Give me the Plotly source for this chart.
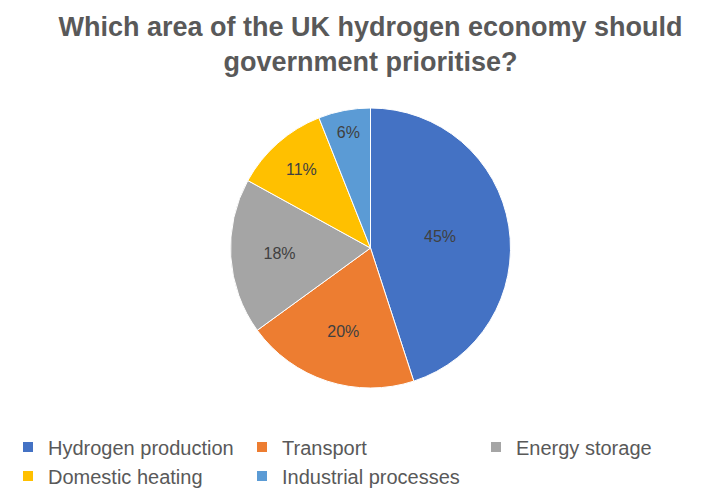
import plotly.graph_objects as go

# survey answers
areas = ["Hydrogen production", "Transport", "Energy storage",
         "Domestic heating", "Industrial processes"]
shares = [45, 20, 18, 11, 6]
colours = ["#4472C4", "#ED7D31", "#A5A5A5", "#FFC000", "#5B9BD5"]

fig = go.Figure(go.Pie(
    labels=areas,
    values=shares,
    sort=False,
    direction="clockwise",
    rotation=0,
    marker=dict(colors=colours, line=dict(color="white", width=1)),
    textinfo="percent",
    texttemplate="%{percent:.0%}",
    textposition="inside",
    insidetextorientation="horizontal",
    textfont=dict(family="Liberation Sans, Arial", size=16, color="#404040"),
    domain=dict(x=[0.2, 0.8], y=[0.24, 0.80]),
    hoverinfo="label+percent",
))

fig.update_layout(
    width=725, height=500,
    paper_bgcolor="white",
    margin=dict(l=0, r=0, t=0, b=0),
    title=dict(
        text="Which area of the UK hydrogen economy should<br>government prioritise?",
        x=0.5, xanchor="center", y=0.945, yanchor="top",
        font=dict(family="Liberation Sans, Arial", size=27, color="#595959", weight="bold"),
    ),
    legend=dict(
        orientation="h",
        x=0, xanchor="left", y=0.025, yanchor="bottom",
        entrywidth=189, entrywidthmode="pixels",
        font=dict(family="Liberation Sans, Arial", size=20, color="#595959"),
        itemsizing="constant",
        traceorder="normal",
    ),
)

fig.write_html("out.html")
